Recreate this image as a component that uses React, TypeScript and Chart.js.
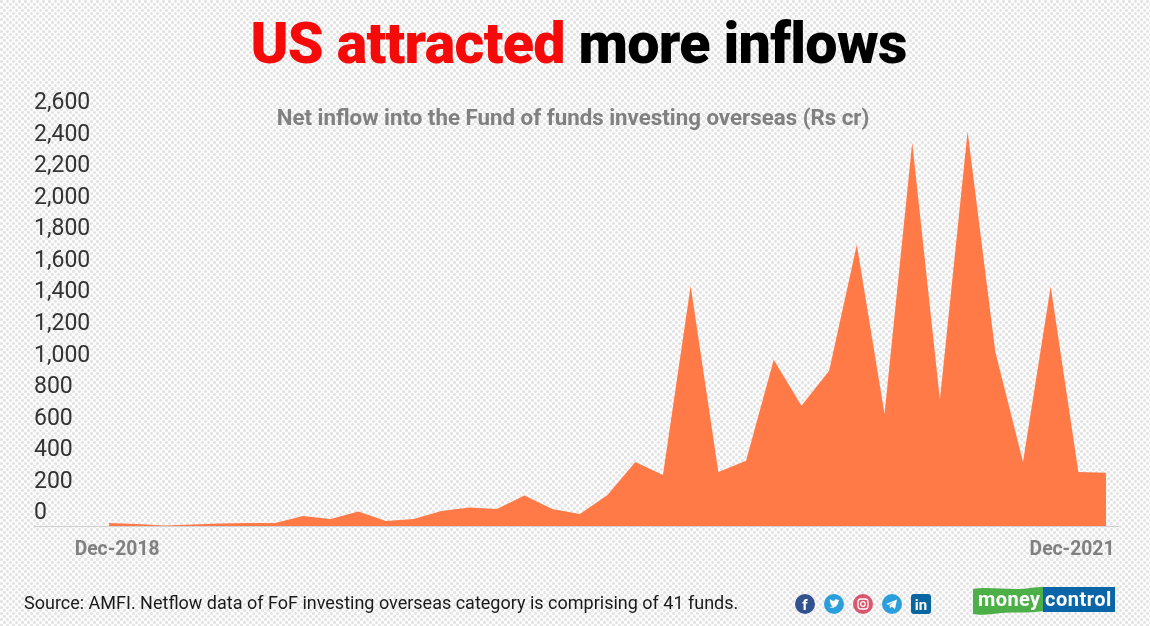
import React, { useEffect, useRef } from "react";
import { Chart, registerables } from "chart.js";

Chart.register(...registerables);

const months: number[] = Array.from({ length: 37 }, (_, i) => i);
const inflow: number[] = [19, 13, 3, 10, 16, 19, 19, 64, 44, 92, 32, 44, 95, 117, 108, 194, 108, 76, 197, 406, 324, 1524, 343, 413, 1054, 762, 984, 1784, 711, 2432, 800, 2502, 1105, 406, 1518, 343, 337];
const xTickPositions: number[] = [0.29, 34.77];
const xTickLabels: string[] = ["Dec-2018", "Dec-2021"];
const yMax = 2600;
const titleRed = "US attracted";
const titleBlack = "more inflows";
const subtitle = "Net inflow into the Fund of funds investing overseas (Rs cr)";
const source = "Source: AMFI. Netflow data of FoF investing overseas category is comprising of 41 funds.";

const font = "'Roboto', 'Noto Sans', sans-serif";

function Icon({ bg, children, square }: { bg: string; children: React.ReactNode; square?: boolean }) {
  return (
    <svg width="20" height="20" viewBox="0 0 20 20" style={{ display: "block" }}>
      {square ? <rect x="0" y="0" width="20" height="20" rx="3" fill={bg} /> : <circle cx="10" cy="10" r="10" fill={bg} />}
      {children}
    </svg>
  );
}

export default function App() {
  const ref = useRef<HTMLCanvasElement | null>(null);

  useEffect(() => {
    const canvas = ref.current;
    if (!canvas) return;
    const chart = new Chart(canvas, {
      type: "line",
      data: {
        datasets: [
          {
            data: months.map((m, i) => ({ x: m, y: inflow[i] })),
            backgroundColor: "#FF7A47",
            borderWidth: 0,
            pointRadius: 0,
            tension: 0,
            fill: "origin",
          },
        ],
      },
      options: {
        responsive: false,
        animation: false,
        layout: { padding: { left: 34, right: 32, top: 116, bottom: 0 } },
        plugins: { legend: { display: false }, title: { display: false }, tooltip: { enabled: false } },
        scales: {
          x: {
            type: "linear",
            min: -2.71,
            max: 36.43,
            afterFit: (s: any) => { s.height = 100; },
            afterBuildTicks: (s: any) => { s.ticks = xTickPositions.map((value) => ({ value })); },
            grid: { display: false },
            border: { display: true, color: "#d0d0d0", width: 1 },
            ticks: {
              autoSkip: false,
              maxRotation: 0,
              padding: 5,
              color: "#808080",
              font: { family: font, size: 19.3, weight: "bold" },
              callback: (v: any) => xTickLabels[xTickPositions.indexOf(Number(v))] ?? "",
            },
          },
          y: {
            min: 0,
            max: yMax,
            grid: { display: false },
            border: { display: false },
            afterFit: (s: any) => { s.width = 0; },
            ticks: {
              stepSize: 200,
              autoSkip: false,
              mirror: true,
              padding: 0,
              labelOffset: -12.5,
              color: "#333333",
              font: { family: font, size: 23 },
              callback: (v: any) => Number(v).toLocaleString("en-US"),
            },
          },
        },
      },
    } as any);
    return () => chart.destroy();
  }, []);

  return (
    <div
      style={{
        position: "fixed",
        left: 0,
        top: 0,
        width: 1150,
        height: 626,
        overflow: "hidden",
        backgroundColor: "#fcfcfc",
        backgroundImage:
          "radial-gradient(circle at 1.5px 1.5px, #e4e4e4 1.2px, transparent 1.7px), radial-gradient(circle at 4.5px 4.5px, #e4e4e4 1.2px, transparent 1.7px)",
        backgroundSize: "6px 6px",
        fontFamily: font,
      }}
    >
      <canvas ref={ref} width={1150} height={626} style={{ position: "absolute", left: 0, top: 0 }} />
      <div style={{ position: "absolute", left: 0, width: 1150, top: 9, textAlign: "center", paddingLeft: 7, boxSizing: "border-box", fontSize: 57.4, lineHeight: "70px", fontWeight: 900, whiteSpace: "nowrap", letterSpacing: -0.7 }}>
        <span style={{ color: "#F50A0A" }}>{titleRed}</span> <span style={{ color: "#000" }}>{titleBlack}</span>
      </div>
      <div style={{ position: "absolute", left: 0, width: 1146, top: 104, textAlign: "center", fontSize: 22.3, lineHeight: "26px", fontWeight: 700, color: "#808080", whiteSpace: "nowrap" }}>{subtitle}</div>
      <div style={{ position: "absolute", left: 24, top: 592, fontSize: 18, lineHeight: "22px", color: "#1a1a1a", whiteSpace: "nowrap" }}>{source}</div>
      <div style={{ position: "absolute", left: 795, top: 594, display: "flex", gap: 9 }}>
        <Icon bg="#33518F"><text x="10" y="16" textAnchor="middle" fontSize="15" fontWeight="700" fill="#fff" fontFamily={font}>f</text></Icon>
        <Icon bg="#2A9FDB"><path d="M5 13c4 2 9 0 9.500-6l1-1.200-1.500.300C13 4.500 10.500 5 10.300 7 8.500 7 7 6 6 5c-.6 1.500 0 3 1 3.500L6 8.300c0 1.200 1 2.200 2 2.500H7c.3.900 1 1.300 2 1.400-1 .6-2.500 1-4 .8z" fill="#fff" /></Icon>
        <Icon bg="#D9566E"><rect x="5" y="5" width="10" height="10" rx="3" fill="none" stroke="#fff" strokeWidth="1.300" /><circle cx="10" cy="10" r="2.300" fill="none" stroke="#fff" strokeWidth="1.200" /></Icon>
        <Icon bg="#2A9FDB"><path d="M4 10l11-4.500-2 9.500-3.500-2.500-1.500 2-.5-3.300 4.500-3.700-5.500 3.200z" fill="#fff" /></Icon>
        <Icon bg="#0A66A0" square><text x="10" y="16" textAnchor="middle" fontSize="15" fontWeight="700" fill="#fff" fontFamily={font}>in</text></Icon>
      </div>
      <svg width="142" height="30" viewBox="0 0 142 30" style={{ position: "absolute", left: 973, top: 586 }}>
        <path d="M0 3 C15 0 40 5 57 2 C62 1 67 1 71 1 L71 25 C55 28 35 25 20 28 C12 29 5 29 0 28 Z" fill="#4CAF47" />
        <rect x="70" y="1" width="72" height="25" fill="#0A66A8" />
        <text x="5" y="19.500" fontSize="20" fontWeight="700" fill="#fff" fontFamily={font} letterSpacing="0.4">money</text>
        <text x="72" y="19.500" fontSize="20" fontWeight="700" fill="#fff" fontFamily={font} letterSpacing="0.5">control</text>
      </svg>
    </div>
  );
}
